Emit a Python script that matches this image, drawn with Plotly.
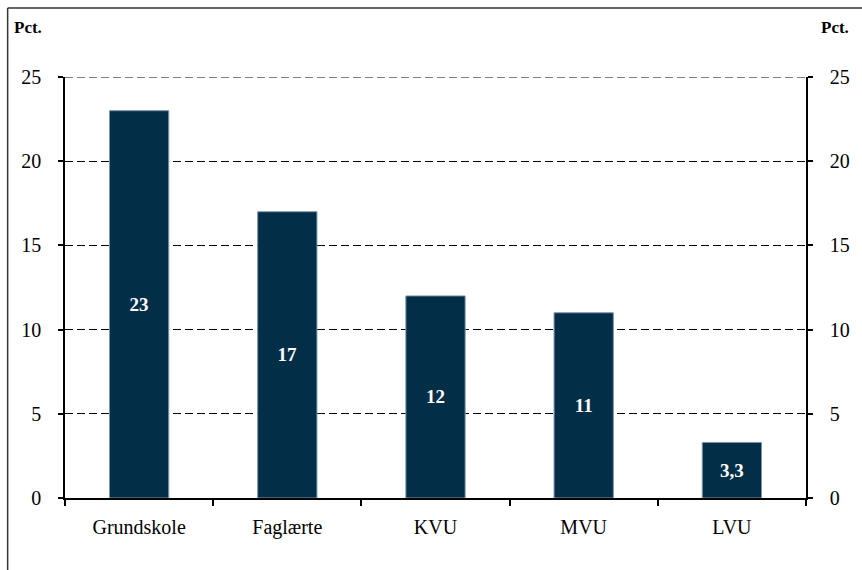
import plotly.graph_objects as go

categories = ["Grundskole", "Faglærte", "KVU", "MVU", "LVU"]
values = [23, 17, 12, 11, 3.3]
labels = ["23", "17", "12", "11", "3,3"]
y_ticks = [0, 5, 10, 15, 20, 25]

font_family = "Liberation Serif, Times New Roman, serif"
bar_color = "#022e47"

fig = go.Figure()
fig.add_trace(go.Bar(
    x=categories, y=values, text=labels,
    textposition="inside", insidetextanchor="middle", textangle=0,
    textfont=dict(family=font_family, size=19, color="white", weight="bold"),
    marker=dict(color=bar_color, line=dict(color="#7c97ab", width=1)),
    width=0.4, showlegend=False, hoverinfo="skip", cliponaxis=False,
))
# invisible trace to drive the right-hand axis
fig.add_trace(go.Scatter(x=categories, y=values, yaxis="y2", mode="markers",
                         marker=dict(opacity=0), showlegend=False, hoverinfo="skip"))

axis_common = dict(
    range=[0, 25], tickvals=y_ticks, ticktext=[str(v) for v in y_ticks],
    showline=True, linecolor="black", linewidth=1.5,
    ticks="outside", ticklen=5, tickcolor="black", tickwidth=1.5,
    tickfont=dict(family=font_family, size=20, color="black"),
    zeroline=False, fixedrange=True,
)

fig.update_layout(
    width=862, height=570,
    margin=dict(l=65, r=48, t=77, b=72),
    paper_bgcolor="white", plot_bgcolor="white",
    bargap=0.6,
    xaxis=dict(
        showline=True, linecolor="black", linewidth=1.5,
        ticks="outside", tickson="boundaries", ticklen=6, tickcolor="black", tickwidth=1.5,
        tickfont=dict(family=font_family, size=20, color="black"),
        ticklabelstandoff=10, showgrid=False, fixedrange=True,
    ),
    yaxis=dict(**axis_common, showgrid=True, gridcolor="black", gridwidth=1,
               griddash="8px,4px", ticklabelstandoff=13),
    yaxis2=dict(**axis_common, overlaying="y", side="right", showgrid=False,
                ticklabelstandoff=13),
    annotations=[
        dict(text="<b>Pct.</b>", xref="paper", yref="paper", x=-0.071, y=1.118,
             xanchor="left", yanchor="middle", showarrow=False,
             font=dict(family=font_family, size=17, color="black")),
        dict(text="<b>Pct.</b>", xref="paper", yref="paper", x=1.061, y=1.118,
             xanchor="right", yanchor="middle", showarrow=False,
             font=dict(family=font_family, size=17, color="black")),
    ],
    shapes=[
        # top gridline (Plotly omits grid at the range edge)
        dict(type="line", xref="paper", yref="y", x0=0, x1=1, y0=y_ticks[-1], y1=y_ticks[-1],
             line=dict(color="black", width=1, dash="8px,4px"), layer="below"),
        dict(type="line", xref="paper", yref="paper", x0=-0.0774, x1=1.2,
             y0=1.1639, y1=1.1639, line=dict(color="#333", width=1.5)),
        dict(type="line", xref="paper", yref="paper", x0=-0.0774, x1=-0.0774,
             y0=1.1639, y1=-0.3, line=dict(color="#333", width=1.5)),
    ],
)

fig.write_html("out.html", config={"displayModeBar": False},
               post_script="document.body.style.margin='0';document.body.style.overflow='hidden';")
